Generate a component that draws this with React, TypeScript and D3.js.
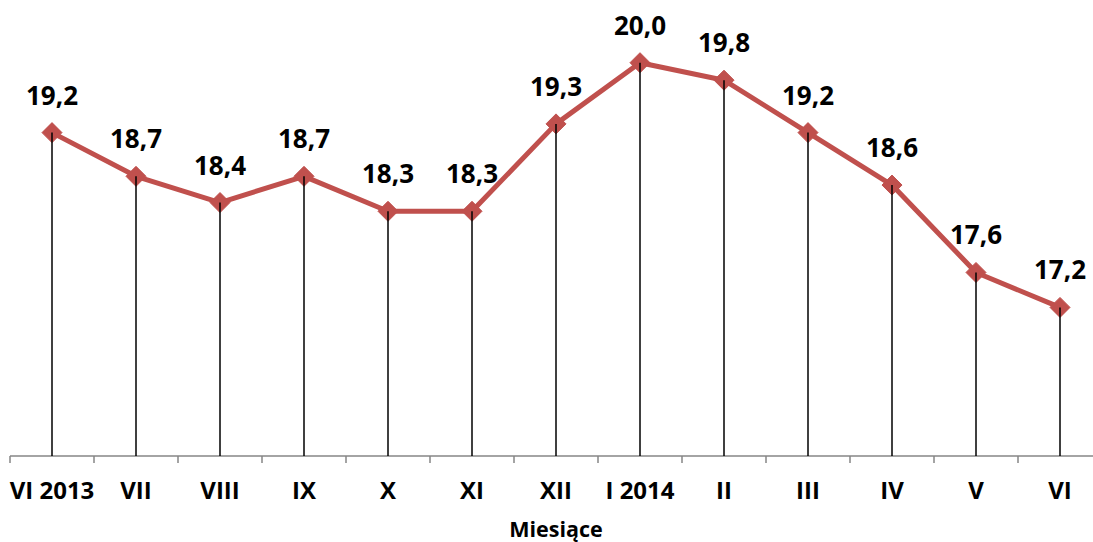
import React from "react";
import * as d3 from "d3";

const categories = ["VI 2013", "VII", "VIII", "IX", "X", "XI", "XII", "I 2014", "II", "III", "IV", "V", "VI"];
const values = [19.2, 18.7, 18.4, 18.7, 18.3, 18.3, 19.3, 20.0, 19.8, 19.2, 18.6, 17.6, 17.2];
const axisTitle = "Miesiące";

const W = 1093;
const H = 542;
const FONT = "'Open Sans', 'DejaVu Sans', sans-serif";

export default function App() {
  const x = d3.scaleBand<string>().domain(categories).range([10, 1102]).padding(0);
  const y = d3.scaleLinear().domain([15.5, 20.5]).range([456, 19]);
  const cx = (c: string) => (x(c) as number) + x.bandwidth() / 2;
  const fmt = (v: number) => v.toFixed(1).replace(".", ",");
  const line = d3
    .line<number>()
    .x((_, i) => cx(categories[i]))
    .y((d) => y(d));
  const axisY = y(15.5);
  const boundaries = categories.map((c) => x(c) as number).concat([x.range()[1]]);
  const r = 10;

  return (
    <svg
      width={W}
      height={H}
      style={{ position: "absolute", left: 0, top: 0, background: "#fff" }}
      fontFamily={FONT}
    >
      <line x1={10} x2={W} y1={axisY} y2={axisY} stroke="#868686" strokeWidth={1.5} />
      {boundaries.map((b, i) => (
        <line key={i} x1={b} x2={b} y1={axisY} y2={axisY + 7} stroke="#868686" strokeWidth={1.5} />
      ))}
      <path d={line(values) || ""} fill="none" stroke="#C0504D" strokeWidth={5} strokeLinejoin="round" />
      {values.map((v, i) => {
        const px = cx(categories[i]);
        const py = y(v);
        return (
          <path
            key={"m" + i}
            d={`M${px},${py - r}L${px + r},${py}L${px},${py + r}L${px - r},${py}Z`}
            fill="#C0504D"
            stroke="#C0504D"
            strokeWidth={1}
          />
        );
      })}
      {values.map((v, i) => {
        const px = cx(categories[i]);
        return (
          <line key={"d" + i} x1={px} x2={px} y1={y(v)} y2={axisY} stroke="#000" strokeWidth={1.5} />
        );
      })}
      {values.map((v, i) => (
        <text
          key={"l" + i}
          x={cx(categories[i])}
          y={y(v) - 28}
          textAnchor="middle"
          fontWeight="bold"
          fontSize={26}
          fill="#000"
        >
          {fmt(v)}
        </text>
      ))}
      {categories.map((c) => (
        <text key={"t" + c} x={cx(c)} y={499} textAnchor="middle" fontWeight="bold" fontSize={24} fill="#000">
          {c}
        </text>
      ))}
      <text x={(10 + 1102) / 2} y={537} textAnchor="middle" fontWeight="bold" fontSize={21.5} fill="#000">
        {axisTitle}
      </text>
    </svg>
  );
}
